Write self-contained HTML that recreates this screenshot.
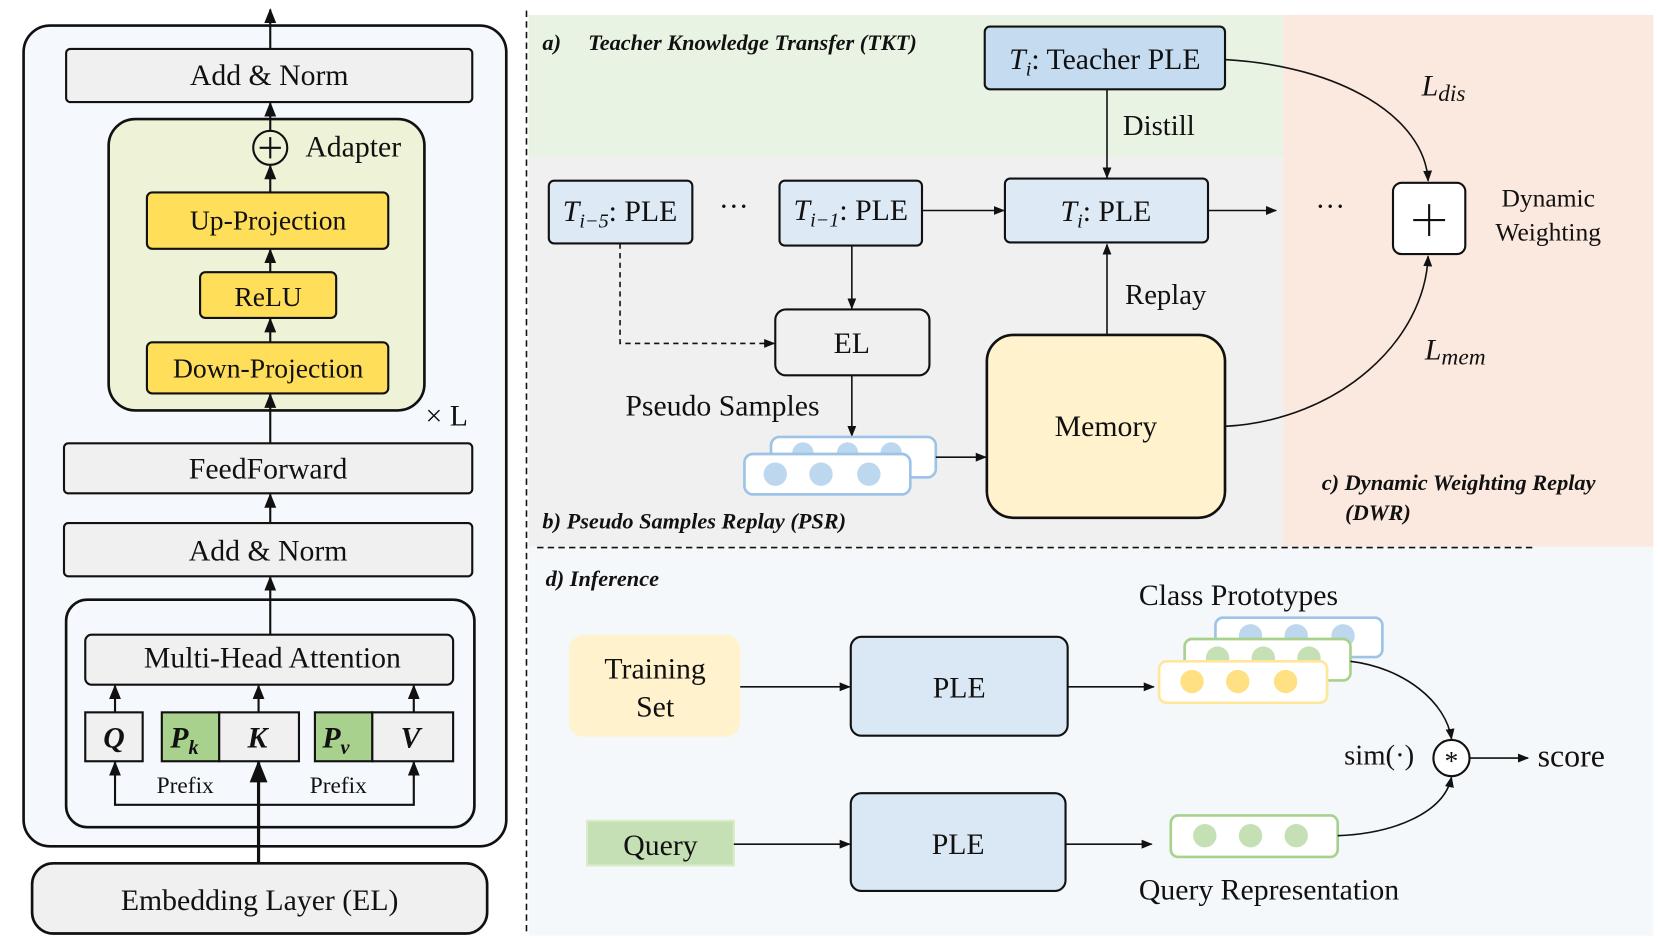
<!DOCTYPE html>
<html><head><meta charset="utf-8"><style>
html,body{margin:0;padding:0;background:#fff}
svg{display:block;font-family:"Liberation Serif","DejaVu Serif",serif}
text{font-family:"Liberation Serif","DejaVu Serif",serif;fill:#111}
</style></head><body>
<svg width="1659" height="942" viewBox="0 0 1560 886" xmlns="http://www.w3.org/2000/svg" font-family="Liberation Serif, DejaVu Serif, serif">
<defs>
<marker id="a" viewBox="0 0 10 10" refX="9" refY="5" markerWidth="7" markerHeight="7" orient="auto-start-reverse"><path d="M0,1 L10,5 L0,9 z" fill="#111"/></marker>
</defs>
<rect width="1560" height="886" fill="#fff"/>
<rect x="22" y="24" width="454" height="772" rx="25" fill="#f5f9fd" stroke="#111" stroke-width="2.5"/>
<line x1="254" y1="46" x2="254" y2="9" stroke="#111" stroke-width="2" marker-end="url(#a)"/>
<rect x="62" y="46" width="382" height="50" rx="4" fill="#f0f0f0" stroke="#111" stroke-width="2"/>
<text x="253" y="80" font-size="28" text-anchor="middle">Add &amp; Norm</text>
<rect x="102" y="112" width="297" height="274" rx="25" fill="#eef3d8" stroke="#111" stroke-width="2.5"/>
<circle cx="254" cy="139" r="16" fill="none" stroke="#111" stroke-width="2"/>
<line x1="244" y1="139" x2="264" y2="139" stroke="#111" stroke-width="2"/><line x1="254" y1="129" x2="254" y2="149" stroke="#111" stroke-width="2"/>
<text x="287" y="147" font-size="28">Adapter</text>
<line x1="254" y1="123" x2="254" y2="97" stroke="#111" stroke-width="2" marker-end="url(#a)"/>
<rect x="138" y="181" width="227" height="53" rx="5" fill="#ffde59" stroke="#111" stroke-width="2"/>
<text x="252" y="216" font-size="26" text-anchor="middle">Up-Projection</text>
<line x1="254" y1="181" x2="254" y2="156" stroke="#111" stroke-width="2" marker-end="url(#a)"/>
<rect x="188" y="256" width="128" height="43" rx="5" fill="#ffde59" stroke="#111" stroke-width="2"/>
<text x="252" y="288" font-size="26" text-anchor="middle">ReLU</text>
<line x1="254" y1="256" x2="254" y2="235" stroke="#111" stroke-width="2" marker-end="url(#a)"/>
<rect x="138" y="322" width="227" height="48" rx="5" fill="#ffde59" stroke="#111" stroke-width="2"/>
<text x="252" y="355" font-size="26" text-anchor="middle">Down-Projection</text>
<line x1="254" y1="322" x2="254" y2="300" stroke="#111" stroke-width="2" marker-end="url(#a)"/>
<text x="400" y="400" font-size="28">× L</text>
<line x1="254" y1="417" x2="254" y2="371" stroke="#111" stroke-width="2" marker-end="url(#a)"/>
<rect x="60" y="417" width="384" height="47" rx="4" fill="#f0f0f0" stroke="#111" stroke-width="2"/>
<text x="252" y="450" font-size="28" text-anchor="middle">FeedForward</text>
<line x1="254" y1="492" x2="254" y2="465" stroke="#111" stroke-width="2" marker-end="url(#a)"/>
<rect x="60" y="492" width="384" height="50" rx="4" fill="#f0f0f0" stroke="#111" stroke-width="2"/>
<text x="252" y="527" font-size="28" text-anchor="middle">Add &amp; Norm</text>
<line x1="254" y1="597" x2="254" y2="543" stroke="#111" stroke-width="2" marker-end="url(#a)"/>
<rect x="62" y="564" width="384" height="214" rx="20" fill="none" stroke="#111" stroke-width="2.5"/>
<rect x="80" y="597" width="346" height="47" rx="6" fill="#f0f0f0" stroke="#111" stroke-width="2"/>
<text x="256" y="628" font-size="28" text-anchor="middle">Multi-Head Attention</text>
<rect x="80" y="670" width="54" height="46" fill="#f0f0f0" stroke="#111" stroke-width="2"/>
<rect x="152" y="670" width="54" height="46" fill="#a9d18e" stroke="#111" stroke-width="2"/>
<rect x="206" y="670" width="75" height="46" fill="#f0f0f0" stroke="#111" stroke-width="2"/>
<rect x="296" y="670" width="54" height="46" fill="#a9d18e" stroke="#111" stroke-width="2"/>
<rect x="350" y="670" width="76" height="46" fill="#f0f0f0" stroke="#111" stroke-width="2"/>
<g font-weight="bold" font-style="italic" font-size="28">
<text x="107" y="703" text-anchor="middle">Q</text>
<text x="160" y="703">P<tspan font-size="19" dy="6">k</tspan></text>
<text x="242" y="703" text-anchor="middle">K</text>
<text x="303" y="703">P<tspan font-size="19" dy="6">v</tspan></text>
<text x="386" y="703" text-anchor="middle">V</text>
</g>
<g stroke="#111" stroke-width="2" fill="none">
<line x1="108" y1="670" x2="108" y2="645" marker-end="url(#a)"/>
<line x1="243" y1="670" x2="243" y2="645" marker-end="url(#a)"/>
<line x1="389" y1="670" x2="389" y2="645" marker-end="url(#a)"/>
<polyline points="108,717 108,757 389,757 389,717"/>
<line x1="108" y1="730" x2="108" y2="717" marker-end="url(#a)"/>
<line x1="389" y1="730" x2="389" y2="717" marker-end="url(#a)"/>
<line x1="243" y1="812" x2="243" y2="717" stroke-width="3" marker-end="url(#a)"/>
</g>
<text x="174" y="746" font-size="22" text-anchor="middle">Prefix</text>
<text x="318" y="746" font-size="22" text-anchor="middle">Prefix</text>
<rect x="30" y="812" width="428" height="66" rx="20" fill="#f0f0f0" stroke="#111" stroke-width="2.5"/>
<text x="244" y="856" font-size="28" text-anchor="middle">Embedding Layer (EL)</text>
<rect x="497" y="14" width="710" height="134" fill="#e9f3e3"/>
<rect x="497" y="148" width="710" height="366" fill="#f0f0f0"/>
<rect x="1207" y="14" width="348" height="500" fill="#fbe9df"/>
<rect x="497" y="514" width="1058" height="366" fill="#f4f8fb"/>
<line x1="495" y1="10" x2="495" y2="880" stroke="#111" stroke-width="1.5" stroke-dasharray="6,4"/>
<line x1="505" y1="515" x2="1443" y2="515" stroke="#111" stroke-width="1.5" stroke-dasharray="6,4"/>
<g font-weight="bold" font-style="italic" font-size="21">
<text x="510" y="47">a)</text><text x="553" y="47">Teacher Knowledge Transfer (TKT)</text>
<text x="510" y="497">b) Pseudo Samples Replay (PSR)</text>
<text x="1243" y="461">c) Dynamic Weighting Replay</text>
<text x="1265" y="489">(DWR)</text>
<text x="513" y="551">d) Inference</text>
</g>
<rect x="926" y="25" width="226" height="59" rx="5" fill="#c5dcf0" stroke="#111" stroke-width="2"/>
<text x="1039" y="65" font-size="28" text-anchor="middle"><tspan font-style="italic">T<tspan font-size="19" dy="6">i</tspan></tspan><tspan dy="-6">: Teacher PLE</tspan></text>
<line x1="1041" y1="84" x2="1041" y2="167" stroke="#111" stroke-width="1.5" marker-end="url(#a)"/>
<text x="1056" y="127" font-size="27">Distill</text>
<rect x="516" y="170" width="135" height="59" rx="5" fill="#dde9f5" stroke="#111" stroke-width="2"/>
<text x="583" y="208" font-size="28" text-anchor="middle"><tspan font-style="italic">T<tspan font-size="19" dy="6">i−5</tspan></tspan><tspan dy="-6">: PLE</tspan></text>
<text x="690" y="203" font-size="28" text-anchor="middle">···</text>
<rect x="733" y="170" width="134" height="61" rx="5" fill="#dde9f5" stroke="#111" stroke-width="2"/>
<text x="800" y="207" font-size="28" text-anchor="middle"><tspan font-style="italic">T<tspan font-size="19" dy="6">i−1</tspan></tspan><tspan dy="-6">: PLE</tspan></text>
<line x1="867" y1="198" x2="944" y2="198" stroke="#111" stroke-width="1.5" marker-end="url(#a)"/>
<rect x="945" y="168" width="191" height="60" rx="5" fill="#dde9f5" stroke="#111" stroke-width="2"/>
<text x="1040" y="208" font-size="28" text-anchor="middle"><tspan font-style="italic">T<tspan font-size="19" dy="6">i</tspan></tspan><tspan dy="-6">:  PLE</tspan></text>
<line x1="1136" y1="198" x2="1200" y2="198" stroke="#111" stroke-width="1.5" marker-end="url(#a)"/>
<text x="1251" y="203" font-size="28" text-anchor="middle">···</text>
<rect x="1310" y="172" width="68" height="67" rx="8" fill="#fff" stroke="#111" stroke-width="2"/>
<line x1="1329" y1="207" x2="1359" y2="207" stroke="#111" stroke-width="2"/><line x1="1344" y1="192" x2="1344" y2="222" stroke="#111" stroke-width="2"/>
<path d="M1152,56 C1260,62 1340,110 1343,170" fill="none" stroke="#111" stroke-width="1.5" marker-end="url(#a)"/>
<path d="M1152,401 C1260,395 1340,320 1343,241" fill="none" stroke="#111" stroke-width="1.5" marker-end="url(#a)"/>
<text x="1337" y="90" font-size="28" font-style="italic">L<tspan font-size="22" dy="5">dis</tspan></text>
<text x="1340" y="338" font-size="28" font-style="italic">L<tspan font-size="22" dy="5">mem</tspan></text>
<text x="1456" y="194" font-size="24" text-anchor="middle">Dynamic</text>
<text x="1456" y="226" font-size="24" text-anchor="middle">Weighting</text>
<rect x="729" y="291" width="145" height="62" rx="10" fill="#f0f0f0" stroke="#111" stroke-width="2"/>
<text x="801" y="332" font-size="28" text-anchor="middle">EL</text>
<line x1="801" y1="231" x2="801" y2="290" stroke="#111" stroke-width="1.5" marker-end="url(#a)"/>
<polyline points="583,229 583,323 728,323" fill="none" stroke="#111" stroke-width="1.5" stroke-dasharray="5,4" marker-end="url(#a)"/>
<rect x="928" y="315" width="224" height="172" rx="25" fill="#fff2cc" stroke="#111" stroke-width="2.5"/>
<text x="1040" y="410" font-size="28" text-anchor="middle">Memory</text>
<line x1="1041" y1="315" x2="1041" y2="230" stroke="#111" stroke-width="1.5" marker-end="url(#a)"/>
<text x="1058" y="286" font-size="27">Replay</text>
<text x="588" y="391" font-size="28">Pseudo Samples</text>
<line x1="801" y1="353" x2="801" y2="410" stroke="#111" stroke-width="1.5" marker-end="url(#a)"/>
<rect x="725" y="411" width="155" height="38" rx="8" fill="#fff" stroke="#9dc3e6" stroke-width="2.5"/>
<circle cx="755" cy="426" r="10" fill="#bdd7ee"/><circle cx="797" cy="426" r="10" fill="#bdd7ee"/><circle cx="838" cy="426" r="10" fill="#bdd7ee"/>
<rect x="700" y="427" width="156" height="38" rx="8" fill="#fff" stroke="#9dc3e6" stroke-width="2.5"/>
<circle cx="729" cy="446" r="11" fill="#bdd7ee"/><circle cx="772" cy="446" r="11" fill="#bdd7ee"/><circle cx="817" cy="446" r="11" fill="#bdd7ee"/>
<line x1="880" y1="430" x2="927" y2="430" stroke="#111" stroke-width="1.5" marker-end="url(#a)"/>
<rect x="535" y="597" width="161" height="96" rx="14" fill="#fff2cc"/>
<text x="616" y="638" font-size="28" text-anchor="middle">Training</text>
<text x="616" y="674" font-size="28" text-anchor="middle">Set</text>
<line x1="696" y1="646" x2="799" y2="646" stroke="#111" stroke-width="1.5" marker-end="url(#a)"/>
<rect x="800" y="599" width="204" height="93" rx="10" fill="#dae8f5" stroke="#111" stroke-width="2"/>
<text x="902" y="656" font-size="28" text-anchor="middle">PLE</text>
<line x1="1004" y1="646" x2="1085" y2="646" stroke="#111" stroke-width="1.5" marker-end="url(#a)"/>
<text x="1071" y="569" font-size="28">Class Prototypes</text>
<rect x="1143" y="581" width="157" height="37" rx="7" fill="#fff" stroke="#9dc3e6" stroke-width="2.5"/>
<circle cx="1176" cy="598" r="11" fill="#bdd7ee"/><circle cx="1219" cy="598" r="11" fill="#bdd7ee"/><circle cx="1263" cy="598" r="11" fill="#bdd7ee"/>
<rect x="1114" y="601" width="156" height="39" rx="7" fill="#fff" stroke="#a9d18e" stroke-width="2.5"/>
<circle cx="1145" cy="619" r="11" fill="#c5e0b4"/><circle cx="1188" cy="619" r="11" fill="#c5e0b4"/><circle cx="1231" cy="619" r="11" fill="#c5e0b4"/>
<rect x="1090" y="622" width="158" height="39" rx="7" fill="#fff" stroke="#ffe699" stroke-width="2.5"/>
<circle cx="1121" cy="641" r="11" fill="#ffe082"/><circle cx="1164" cy="641" r="11" fill="#ffe082"/><circle cx="1209" cy="641" r="11" fill="#ffe082"/>
<rect x="552" y="772" width="138" height="42" fill="#c5e0b4" stroke="#d8ecc8" stroke-width="2"/>
<text x="621" y="804" font-size="28" text-anchor="middle">Query</text>
<line x1="690" y1="794" x2="799" y2="794" stroke="#111" stroke-width="1.5" marker-end="url(#a)"/>
<rect x="800" y="746" width="202" height="92" rx="10" fill="#dae8f5" stroke="#111" stroke-width="2"/>
<text x="901" y="803" font-size="28" text-anchor="middle">PLE</text>
<line x1="1002" y1="794" x2="1083" y2="794" stroke="#111" stroke-width="1.5" marker-end="url(#a)"/>
<rect x="1101" y="767" width="157" height="39" rx="7" fill="#fff" stroke="#a9d18e" stroke-width="2.5"/>
<circle cx="1133" cy="786" r="11" fill="#c5e0b4"/><circle cx="1176" cy="786" r="11" fill="#c5e0b4"/><circle cx="1219" cy="786" r="11" fill="#c5e0b4"/>
<text x="1071" y="846" font-size="28">Query Representation</text>
<circle cx="1365" cy="713" r="17" fill="#fff" stroke="#111" stroke-width="2"/>
<text x="1365" y="724" font-size="26" text-anchor="middle">*</text>
<path d="M1270,622 C1320,628 1360,660 1365,695" fill="none" stroke="#111" stroke-width="1.5" marker-end="url(#a)"/>
<path d="M1258,786 C1310,784 1358,765 1365,731" fill="none" stroke="#111" stroke-width="1.5" marker-end="url(#a)"/>
<line x1="1382" y1="713" x2="1437" y2="713" stroke="#111" stroke-width="1.5" marker-end="url(#a)"/>
<text x="1446" y="721" font-size="30">score</text>
<text x="1264" y="719" font-size="27">sim(·)</text>
</svg>
</body></html>
